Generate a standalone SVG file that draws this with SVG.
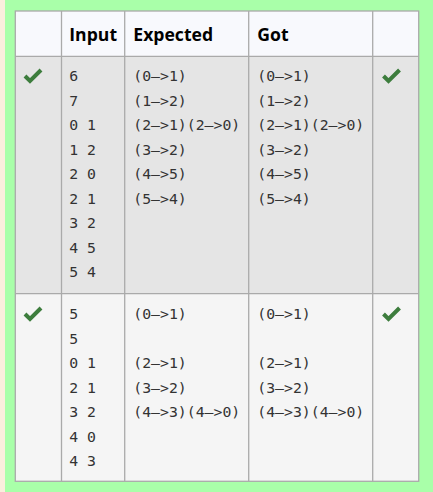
<svg xmlns="http://www.w3.org/2000/svg" width="433" height="492" viewBox="0 0 433 492">
<style>
.hd{font-family:"Open Sans","Noto Sans","Liberation Sans",sans-serif;font-weight:bold;font-size:17.6px;fill:#000}
.mo{font-family:"DejaVu Sans Mono","Liberation Mono",monospace;font-size:14.8px;fill:#333}
.grid{stroke:#aaaaaa;stroke-width:1.3;fill:none}
.ck{fill:none;stroke:#3d7d3d;stroke-width:4;stroke-linecap:butt;stroke-linejoin:miter}
</style>
<defs>
<path id="check" class="ck" d="M-8,0 L-3,5 L8,-6"/>
</defs>
<rect x="0" y="0" width="433" height="492" fill="#fbeedd"/>
<rect x="5" y="0" width="428" height="492" fill="#a9ffa9"/>
<g id="header">
<rect x="15.3" y="11" width="403.4" height="45.3" fill="#f8f9fd"/>
<text class="hd" x="69.3" y="40.5">Input</text>
<text class="hd" x="133.3" y="40.5">Expected</text>
<text class="hd" x="257.3" y="40.5">Got</text>
</g>
<g id="row1">
<rect x="15.3" y="56.3" width="403.4" height="237.4" fill="#e5e5e5"/>
<use href="#check" x="33" y="76"/>
<use href="#check" x="391.5" y="76"/>
<text class="mo" x="69.3" y="81">6</text>
<text class="mo" x="69.3" y="105.5">7</text>
<text class="mo" x="69.3" y="130">0 1</text>
<text class="mo" x="69.3" y="154.5">1 2</text>
<text class="mo" x="69.3" y="179">2 0</text>
<text class="mo" x="69.3" y="203.5">2 1</text>
<text class="mo" x="69.3" y="228">3 2</text>
<text class="mo" x="69.3" y="252.5">4 5</text>
<text class="mo" x="69.3" y="277">5 4</text>
<text class="mo" x="133.3" y="81">(0–&gt;1)</text>
<text class="mo" x="133.3" y="105.5">(1–&gt;2)</text>
<text class="mo" x="133.3" y="130">(2–&gt;1)(2–&gt;0)</text>
<text class="mo" x="133.3" y="154.5">(3–&gt;2)</text>
<text class="mo" x="133.3" y="179">(4–&gt;5)</text>
<text class="mo" x="133.3" y="203.5">(5–&gt;4)</text>
<text class="mo" x="257.3" y="81">(0–&gt;1)</text>
<text class="mo" x="257.3" y="105.5">(1–&gt;2)</text>
<text class="mo" x="257.3" y="130">(2–&gt;1)(2–&gt;0)</text>
<text class="mo" x="257.3" y="154.5">(3–&gt;2)</text>
<text class="mo" x="257.3" y="179">(4–&gt;5)</text>
<text class="mo" x="257.3" y="203.5">(5–&gt;4)</text>
</g>
<g id="row2">
<rect x="15.3" y="293.7" width="403.4" height="187.6" fill="#f5f5f5"/>
<use href="#check" x="33" y="314"/>
<use href="#check" x="391.5" y="314"/>
<text class="mo" x="69.3" y="319.3">5</text>
<text class="mo" x="69.3" y="343.8">5</text>
<text class="mo" x="69.3" y="368.3">0 1</text>
<text class="mo" x="69.3" y="392.8">2 1</text>
<text class="mo" x="69.3" y="417.3">3 2</text>
<text class="mo" x="69.3" y="441.8">4 0</text>
<text class="mo" x="69.3" y="466.3">4 3</text>
<text class="mo" x="133.3" y="319.3">(0–&gt;1)</text>
<text class="mo" x="133.3" y="368.3">(2–&gt;1)</text>
<text class="mo" x="133.3" y="392.8">(3–&gt;2)</text>
<text class="mo" x="133.3" y="417.3">(4–&gt;3)(4–&gt;0)</text>
<text class="mo" x="257.3" y="319.3">(0–&gt;1)</text>
<text class="mo" x="257.3" y="368.3">(2–&gt;1)</text>
<text class="mo" x="257.3" y="392.8">(3–&gt;2)</text>
<text class="mo" x="257.3" y="417.3">(4–&gt;3)(4–&gt;0)</text>
</g>
<g id="connectors" class="grid">
<rect x="15.3" y="11" width="403.4" height="470.3"/>
<line x1="15.3" y1="56.3" x2="418.7" y2="56.3"/>
<line x1="15.3" y1="293.7" x2="418.7" y2="293.7"/>
<line x1="61.5" y1="11" x2="61.5" y2="481.3"/>
<line x1="124.7" y1="11" x2="124.7" y2="481.3"/>
<line x1="248.7" y1="11" x2="248.7" y2="481.3"/>
<line x1="372.7" y1="11" x2="372.7" y2="481.3"/>
</g>
</svg>
